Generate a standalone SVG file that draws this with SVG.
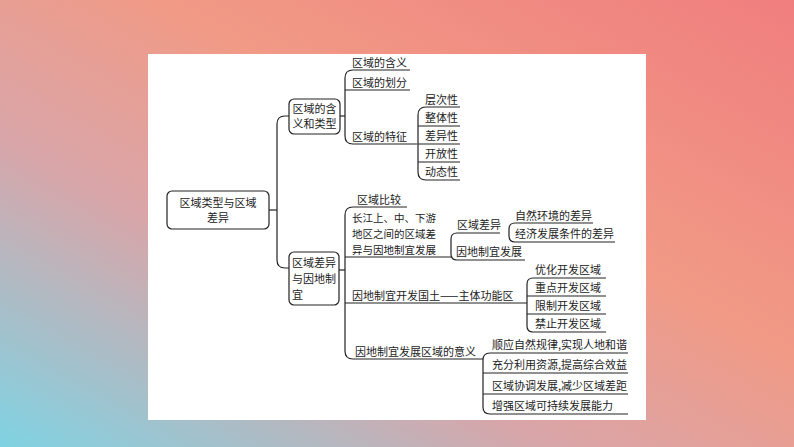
<svg xmlns="http://www.w3.org/2000/svg" width="794" height="447" viewBox="0 0 794 447">
<defs>
<linearGradient id="bg" x1="0" y1="1" x2="1" y2="0">
<stop offset="0" stop-color="#7fd3e3"/>
<stop offset="0.35" stop-color="#d9a5a8"/>
<stop offset="0.6" stop-color="#f19a86"/>
<stop offset="1" stop-color="#f07e7e"/>
</linearGradient>
<style>
text{font-family:"Noto Sans CJK SC","Liberation Serif",serif;font-size:11px;fill:#222}
.s{font-size:10.5px}
.l{fill:none;stroke:#222;stroke-width:1.2}
.b{fill:#fff;stroke:#222;stroke-width:1.2}
</style>
</defs>
<rect width="794" height="447" fill="url(#bg)"/>
<rect x="148" y="54" width="498" height="366" fill="#fff"/>
<g id="connectors" class="l">
<path d="M269,210 H277"/>
<path d="M289,116 H285 Q277,116 277,124 V260 Q277,268 285,268 H289"/>
<path d="M340,116 H345"/>
<path d="M353,70 Q345,70 345,78 V136 Q345,144 353,144"/>
<path d="M353,70 H410 M345,90 H410 M353,144 H417"/>
<path d="M426,107 Q418,107 418,115 V172 Q418,180 426,180"/>
<path d="M426,107 H460 M418,126 H460 M418,144 H460 M418,162 H460 M426,180 H460"/>
<path d="M339,270 H345"/>
<path d="M353,207 Q345,207 345,215 V351 Q345,359 353,359"/>
<path d="M353,207 H407 M345,257 H451 M345,303 H527 M353,359 H483"/>
<path d="M457,233 Q451,233 451,239 V254 Q451,260 457,260"/>
<path d="M457,233 H500 M457,260 H525"/>
<path d="M515,223 Q509,223 509,229 V236 Q509,242 515,242"/>
<path d="M515,223 H593 M515,242 H615"/>
<path d="M533,278 Q527,278 527,284 V326 Q527,332 533,332"/>
<path d="M533,278 H606 M527,296 H606 M527,314 H606 M533,332 H606"/>
<path d="M490,353 Q483,353 483,360 V407 Q483,414 490,414"/>
<path d="M490,353 H628 M483,373 H628 M483,394 H628 M490,414 H628"/>
</g>
<g id="root"><rect class="b" x="167" y="191" width="102" height="38" rx="5"/><text x="218" y="207" text-anchor="middle">区域类型与区域</text><text x="218" y="222" text-anchor="middle">差异</text></g>
<g id="n1"><rect class="b" x="289" y="99" width="51" height="35" rx="5"/><text x="314.5" y="113" text-anchor="middle">区域的含</text><text x="314.5" y="128" text-anchor="middle">义和类型</text></g>
<g id="n2"><rect class="b" x="289" y="252" width="50" height="53" rx="5"/><text x="292" y="267">区域差异</text><text x="292" y="283">与因地制</text><text x="292" y="299">宜</text></g>
<g id="n1a"><text x="352" y="67">区域的含义</text></g>
<g id="n1b"><text x="352" y="87">区域的划分</text></g>
<g id="n1c"><text x="352" y="141">区域的特征</text></g>
<g id="f1"><text x="425" y="104">层次性</text></g>
<g id="f2"><text x="425" y="122">整体性</text></g>
<g id="f3"><text x="425" y="140">差异性</text></g>
<g id="f4"><text x="425" y="158">开放性</text></g>
<g id="f5"><text x="425" y="176">动态性</text></g>
<g id="n2a"><text x="357" y="204">区域比较</text></g>
<g id="n2b"><text class="s" x="352" y="222">长江上、中、下游</text><text class="s" x="352" y="238">地区之间的区域差</text><text class="s" x="352" y="254">异与因地制宜发展</text></g>
<g id="n2b1"><text x="457" y="229">区域差异</text></g>
<g id="n2b2"><text x="456" y="256">因地制宜发展</text></g>
<g id="d1"><text x="515" y="220">自然环境的差异</text></g>
<g id="d2"><text x="515" y="238">经济发展条件的差异</text></g>
<g id="n2c"><text x="352" y="300">因地制宜开发国土——主体功能区</text></g>
<g id="z1"><text x="535" y="274">优化开发区域</text></g>
<g id="z2"><text x="535" y="292">重点开发区域</text></g>
<g id="z3"><text x="535" y="310">限制开发区域</text></g>
<g id="z4"><text x="535" y="328">禁止开发区域</text></g>
<g id="n2d"><text x="355" y="356">因地制宜发展区域的意义</text></g>
<g id="m1"><text x="492" y="349">顺应自然规律,实现人地和谐</text></g>
<g id="m2"><text x="492" y="369">充分利用资源,提高综合效益</text></g>
<g id="m3"><text x="492" y="390">区域协调发展,减少区域差距</text></g>
<g id="m4"><text x="492" y="410">增强区域可持续发展能力</text></g>
</svg>
